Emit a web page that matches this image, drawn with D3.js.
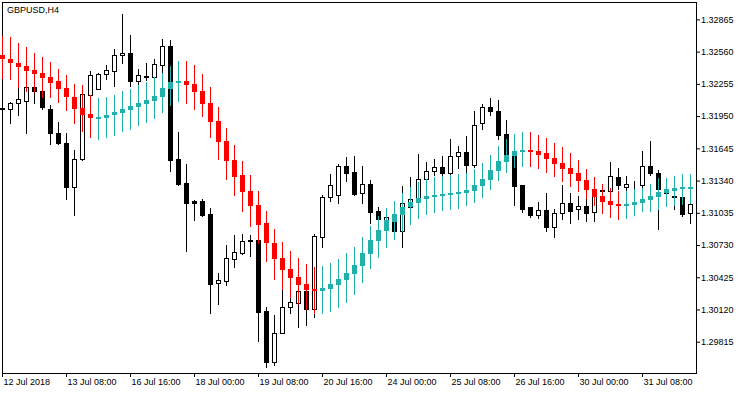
<!DOCTYPE html>
<html>
<head>
<meta charset="utf-8">
<script src="https://cdn.jsdelivr.net/npm/d3@7"></script>
<style>
  body { margin: 0; background: #fff; }
  text { font-family: "Liberation Sans", Arial, sans-serif; font-size: 9px; fill: #000; }
</style>
</head>
<body>
<div id="chart"></div>
<script>
const symbol = "GBPUSD,H4";

// H4 candles
const open  = [1.32026,1.32020,1.32071,1.32095,1.32222,1.32184,1.32020,1.31787,1.31692,1.31282,
               1.31541,1.32152,1.32209,1.32348,1.32379,1.32525,1.32544,1.32285,1.32324,1.32322,
               1.32436,1.32613,1.31541,1.31314,1.31144,1.31144,1.31024,1.30368,1.30393,1.30601,
               1.30658,1.30773,1.30778,1.30109,1.29624,1.29895,1.30141,1.30185,1.30292,1.30128,
               1.30809,1.31182,1.31201,1.31478,1.31421,1.31219,1.31307,1.31055,1.30872,1.30948,
               1.30866,1.31087,1.31168,1.31358,1.31428,1.31471,1.31409,1.31572,1.31610,1.31490,
               1.31882,1.32033,1.31995,1.31780,1.31579,1.31295,1.31087,1.31017,1.31061,1.30903,
               1.31030,1.31125,1.31074,1.31099,1.31043,1.31251,1.31238,1.31371,1.31282,1.31305,
               1.31301,1.31478,1.31409,1.31257,1.31194,1.31182,1.31030];
const high  = [1.32045,1.32083,1.32241,1.32244,1.32285,1.32187,1.32058,1.31894,1.31787,1.31629,
               1.32222,1.32374,1.32357,1.32430,1.32582,1.32916,1.32720,1.32392,1.32449,1.32487,
               1.32676,1.32670,1.31799,1.31497,1.31156,1.31163,1.31080,1.30468,1.30733,1.30828,
               1.30834,1.30828,1.30787,1.30147,1.30068,1.30311,1.30248,1.30295,1.30314,1.30834,
               1.31201,1.31402,1.31497,1.31560,1.31572,1.31478,1.31345,1.31090,1.31024,1.31024,
               1.31288,1.31371,1.31591,1.31516,1.31547,1.31572,1.31730,1.31667,1.31761,1.31995,
               1.32064,1.32121,1.32102,1.31913,1.31620,1.31301,1.31093,1.31137,1.31225,1.31074,
               1.31301,1.31222,1.31194,1.31184,1.31279,1.31307,1.31516,1.31459,1.31383,1.31339,
               1.31622,1.31717,1.31440,1.31270,1.31251,1.31194,1.31156];
const low   = [1.31998,1.31887,1.31963,1.31793,1.32071,1.32020,1.31686,1.31690,1.31163,1.31017,
               1.31539,1.32149,1.32206,1.32298,1.32234,1.32455,1.32234,1.32247,1.32291,1.32320,
               1.32355,1.31433,1.31295,1.30676,1.30967,1.31005,1.30090,1.30172,1.30349,1.30519,
               1.30645,1.30626,1.29825,1.29579,1.29598,1.29893,1.30090,1.29952,1.29976,1.30052,
               1.30709,1.31149,1.31125,1.31339,1.31206,1.31125,1.30941,1.30948,1.30853,1.30834,
               1.30709,1.31080,1.31165,1.31355,1.31395,1.31383,1.31383,1.31459,1.31414,1.31471,
               1.31831,1.31963,1.31736,1.31421,1.31106,1.31043,1.30998,1.30986,1.30866,1.30809,
               1.30979,1.30941,1.30979,1.30960,1.30955,1.31036,1.31156,1.31263,1.31241,1.31251,
               1.31270,1.31395,1.30885,1.31194,1.31068,1.31005,1.30941];
const close = [1.32017,1.32071,1.32109,1.32222,1.32184,1.32039,1.31787,1.31692,1.31282,1.31541,
               1.32159,1.32336,1.32348,1.32386,1.32525,1.32550,1.32285,1.32336,1.32329,1.32443,
               1.32613,1.31534,1.31307,1.31131,1.31131,1.31017,1.30361,1.30399,1.30607,1.30664,
               1.30771,1.30768,1.30097,1.29624,1.29895,1.30141,1.30191,1.30292,1.30128,1.30815,
               1.31182,1.31295,1.31478,1.31414,1.31213,1.31307,1.31043,1.30973,1.30992,1.30866,
               1.31125,1.31163,1.31358,1.31428,1.31471,1.31409,1.31572,1.31610,1.31490,1.31863,
               1.32033,1.31995,1.31774,1.31579,1.31288,1.31068,1.31017,1.31061,1.30903,1.31030,
               1.31125,1.31055,1.31099,1.31036,1.31194,1.31238,1.31383,1.31301,1.31307,1.31307,
               1.31478,1.31409,1.31257,1.31219,1.31182,1.31024,1.31118];

// smoothed indicator candles
const indOpen  = [1.32525,1.32487,1.32455,1.32424,1.32386,1.32360,1.32322,1.32279,1.32216,1.32128,
                  1.32026,1.31970,1.31935,1.31932,1.31957,1.31982,1.32007,1.32039,1.32064,1.32095,
                  1.32133,1.32203,1.32266,1.32285,1.32253,1.32190,1.32077,1.31906,1.31717,1.31534,
                  1.31390,1.31244,1.31112,1.30936,1.30749,1.30607,1.30506,1.30430,1.30361,1.30311,
                  1.30298,1.30317,1.30355,1.30399,1.30456,1.30532,1.30645,1.30771,1.30866,1.30948,
                  1.31017,1.31087,1.31131,1.31168,1.31182,1.31194,1.31201,1.31213,1.31219,1.31244,
                  1.31288,1.31345,1.31433,1.31516,1.31572,1.31610,1.31629,1.31617,1.31598,1.31553,
                  1.31509,1.31459,1.31414,1.31345,1.31257,1.31194,1.31149,1.31118,1.31099,1.31112,
                  1.31131,1.31156,1.31187,1.31225,1.31244,1.31263,1.31270];
const indHigh  = [1.32707,1.32695,1.32644,1.32606,1.32550,1.32512,1.32462,1.32398,1.32336,1.32253,
                  1.32244,1.32146,1.32121,1.32128,1.32146,1.32190,1.32209,1.32247,1.32272,1.32322,
                  1.32355,1.32424,1.32468,1.32468,1.32436,1.32348,1.32228,1.32039,1.31837,1.31679,
                  1.31528,1.31390,1.31244,1.31055,1.30885,1.30759,1.30676,1.30607,1.30551,1.30525,
                  1.30532,1.30557,1.30595,1.30652,1.30714,1.30809,1.30910,1.31005,1.31080,1.31149,
                  1.31225,1.31282,1.31326,1.31358,1.31371,1.31383,1.31395,1.31402,1.31414,1.31446,
                  1.31503,1.31579,1.31667,1.31730,1.31780,1.31799,1.31799,1.31768,1.31743,1.31698,
                  1.31655,1.31604,1.31534,1.31446,1.31376,1.31307,1.31270,1.31238,1.31238,1.31263,
                  1.31270,1.31307,1.31364,1.31364,1.31383,1.31402,1.31402];
const indLow   = [1.32310,1.32298,1.32228,1.32190,1.32178,1.32128,1.32133,1.32083,1.32007,1.31887,
                  1.31806,1.31755,1.31736,1.31749,1.31768,1.31812,1.31831,1.31868,1.31894,1.31932,
                  1.31988,1.32058,1.32095,1.32077,1.32020,1.31951,1.31755,1.31547,1.31358,1.31201,
                  1.31055,1.30910,1.30746,1.30576,1.30412,1.30311,1.30241,1.30172,1.30128,1.30084,
                  1.30090,1.30109,1.30147,1.30191,1.30267,1.30380,1.30513,1.30620,1.30714,1.30790,
                  1.30863,1.30929,1.30986,1.31024,1.31043,1.31061,1.31074,1.31080,1.31106,1.31137,
                  1.31187,1.31263,1.31345,1.31421,1.31471,1.31478,1.31478,1.31459,1.31421,1.31383,
                  1.31339,1.31288,1.31244,1.31175,1.31106,1.31036,1.30998,1.30979,1.30986,1.31011,
                  1.31055,1.31055,1.31074,1.31099,1.31112,1.31118,1.31125];
const indClose = [1.32487,1.32449,1.32417,1.32379,1.32348,1.32310,1.32266,1.32209,1.32128,1.32020,
                  1.31957,1.31932,1.31941,1.31957,1.31988,1.32020,1.32045,1.32077,1.32102,1.32140,
                  1.32216,1.32272,1.32285,1.32247,1.32178,1.32064,1.31894,1.31705,1.31528,1.31376,
                  1.31232,1.31099,1.30922,1.30746,1.30601,1.30494,1.30418,1.30355,1.30305,1.30298,
                  1.30324,1.30361,1.30412,1.30468,1.30544,1.30658,1.30778,1.30872,1.30967,1.31024,
                  1.31093,1.31137,1.31175,1.31194,1.31206,1.31213,1.31225,1.31232,1.31251,1.31295,
                  1.31358,1.31440,1.31522,1.31585,1.31617,1.31629,1.31610,1.31585,1.31547,1.31497,
                  1.31452,1.31402,1.31339,1.31251,1.31182,1.31137,1.31112,1.31099,1.31118,1.31137,
                  1.31168,1.31194,1.31232,1.31257,1.31270,1.31282,1.31282];

const priceTicks = [1.32865,1.32560,1.32255,1.31950,1.31645,1.31340,1.31035,1.30730,1.30425,1.30120,1.29815];
const timeLabels = ["12 Jul 2018","13 Jul 08:00","16 Jul 16:00","18 Jul 00:00","19 Jul 08:00","20 Jul 16:00",
                    "24 Jul 00:00","25 Jul 08:00","26 Jul 16:00","30 Jul 00:00","31 Jul 08:00"];
const barsPerLabel = 8;

const width = 750, height = 394;
const bull = "#20b2aa", bear = "#ff0000";

const svg = d3.select("#chart").append("svg")
    .attr("width", width)
    .attr("height", height);

const x = d3.scaleLinear().domain([0, open.length - 1]).range([2, 690]);
const y = d3.scaleLinear().domain([1.29519, 1.33020]).range([373, 3]);
const py = v => Math.round(y(v));

// frame
svg.append("rect")
    .attr("x", 2.5).attr("y", 2.5)
    .attr("width", 694).attr("height", 371)
    .attr("fill", "none").attr("stroke", "#000");

// price axis
let yAxis = svg.append("g")
    .attr("transform", "translate(696,0)")
    .call(d3.axisRight(y).tickValues(priceTicks).tickSize(4).tickPadding(1).tickFormat(d3.format(".5f")));
yAxis.select(".domain").remove();
yAxis.selectAll("text").attr("fill", "#000");

// time axis
let xAxis = svg.append("g")
    .attr("transform", "translate(0,373)")
    .call(d3.axisBottom(x)
        .tickValues(timeLabels.map((d, i) => i * barsPerLabel))
        .tickSize(4)
        .tickFormat((d, i) => timeLabels[i]));
xAxis.select(".domain").remove();
xAxis.selectAll("text")
    .attr("x", 1).attr("y", 12).attr("dy", 0)
    .attr("fill", "#000")
    .style("text-anchor", "start");

const bars = d3.range(open.length);

// candles
let candles = svg.append("g").selectAll("g")
    .data(bars)
    .enter().append("g");

candles.append("line")
    .attr("x1", i => x(i) + 0.5).attr("x2", i => x(i) + 0.5)
    .attr("y1", i => py(high[i])).attr("y2", i => py(low[i]) + 1)
    .attr("stroke", "#000");

candles.append("rect")
    .attr("x", i => x(i) - 1.5)
    .attr("width", 4)
    .attr("y", i => py(Math.max(open[i], close[i])) + 0.5)
    .attr("height", i => Math.max(0, py(Math.min(open[i], close[i])) - py(Math.max(open[i], close[i]))))
    .attr("fill", i => close[i] >= open[i] ? "#fff" : "#000")
    .attr("stroke", "#000");

// indicator bars drawn over the candles
let ind = svg.append("g").selectAll("g")
    .data(bars)
    .enter().append("g");

ind.append("line")
    .attr("x1", i => x(i) + 0.5).attr("x2", i => x(i) + 0.5)
    .attr("y1", i => py(indHigh[i])).attr("y2", i => py(indLow[i]) + 1)
    .attr("stroke", i => indClose[i] >= indOpen[i] ? bull : bear);

ind.append("rect")
    .attr("x", i => x(i) - 2)
    .attr("width", 5)
    .attr("y", i => py(Math.max(indOpen[i], indClose[i])))
    .attr("height", i => Math.max(2, py(Math.min(indOpen[i], indClose[i])) - py(Math.max(indOpen[i], indClose[i]))))
    .attr("fill", i => indClose[i] >= indOpen[i] ? bull : bear);

svg.append("text")
    .attr("x", 7).attr("y", 13)
    .text(symbol);
</script>
</body>
</html>
